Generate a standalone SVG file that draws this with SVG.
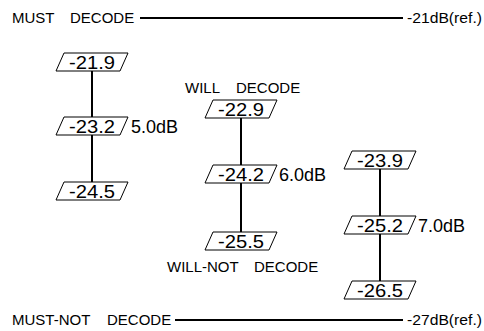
<svg xmlns="http://www.w3.org/2000/svg" width="484" height="331" viewBox="0 0 484 331">
<style>
text{font-family:"Liberation Sans",Arial,sans-serif;fill:#000}
.lbl{font-size:15px}
.db{font-size:18px}
.num{font-size:18px;text-anchor:middle}
.box{fill:#fff;stroke:#000;stroke-width:1}
.ln{stroke:#000;stroke-width:2;fill:none}
</style>
<g id="levels">
<text class="lbl" y="23"><tspan x="12">MUST</tspan><tspan x="70">DECODE</tspan></text>
<line class="ln" x1="140" y1="18" x2="403" y2="18"/>
<text class="lbl" x="407" y="23" textLength="75" lengthAdjust="spacingAndGlyphs">-21dB(ref.)</text>
<text class="lbl" y="325"><tspan x="12">MUST-NOT</tspan><tspan x="107">DECODE</tspan></text>
<line class="ln" x1="175" y1="320" x2="403" y2="320"/>
<text class="lbl" x="407" y="325" textLength="75" lengthAdjust="spacingAndGlyphs">-27dB(ref.)</text>
</g>
<g id="connectors">
<line class="ln" x1="92" y1="71" x2="92" y2="117"/>
<line class="ln" x1="92" y1="135" x2="92" y2="182"/>
<line class="ln" x1="241" y1="118" x2="241" y2="165"/>
<line class="ln" x1="241" y1="183" x2="241" y2="232"/>
<line class="ln" x1="380" y1="169" x2="380" y2="216"/>
<line class="ln" x1="380" y1="234" x2="380" y2="281"/>
</g>
<g id="n-21.9"><polygon class="box" points="64,53 128,53 120,71 56,71"/><text class="num" x="92" y="68.5" textLength="46" lengthAdjust="spacingAndGlyphs">-21.9</text></g>
<g id="n-23.2"><polygon class="box" points="64,117 128,117 120,135 56,135"/><text class="num" x="92" y="132.5" textLength="46" lengthAdjust="spacingAndGlyphs">-23.2</text><text class="db" x="131" y="133">5.0dB</text></g>
<g id="n-24.5"><polygon class="box" points="64,182 128,182 120,200 56,200"/><text class="num" x="92" y="197.5" textLength="46" lengthAdjust="spacingAndGlyphs">-24.5</text></g>
<g id="will-decode"><text class="lbl" y="93"><tspan x="185">WILL</tspan><tspan x="236">DECODE</tspan></text></g>
<g id="n-22.9"><polygon class="box" points="213,100 277,100 269,118 205,118"/><text class="num" x="241" y="115.5" textLength="46" lengthAdjust="spacingAndGlyphs">-22.9</text></g>
<g id="n-24.2"><polygon class="box" points="213,165 277,165 269,183 205,183"/><text class="num" x="241" y="180.5" textLength="46" lengthAdjust="spacingAndGlyphs">-24.2</text><text class="db" x="279" y="181">6.0dB</text></g>
<g id="n-25.5"><polygon class="box" points="213,232 277,232 269,250 205,250"/><text class="num" x="241" y="247.5" textLength="46" lengthAdjust="spacingAndGlyphs">-25.5</text></g>
<g id="will-not-decode"><text class="lbl" y="272"><tspan x="167">WILL-NOT</tspan><tspan x="254">DECODE</tspan></text></g>
<g id="n-23.9"><polygon class="box" points="352,151 416,151 408,169 344,169"/><text class="num" x="380" y="166.5" textLength="46" lengthAdjust="spacingAndGlyphs">-23.9</text></g>
<g id="n-25.2"><polygon class="box" points="352,216 416,216 408,234 344,234"/><text class="num" x="380" y="231.5" textLength="46" lengthAdjust="spacingAndGlyphs">-25.2</text><text class="db" x="418" y="232">7.0dB</text></g>
<g id="n-26.5"><polygon class="box" points="352,281 416,281 408,299 344,299"/><text class="num" x="380" y="296.5" textLength="46" lengthAdjust="spacingAndGlyphs">-26.5</text></g>
</svg>
